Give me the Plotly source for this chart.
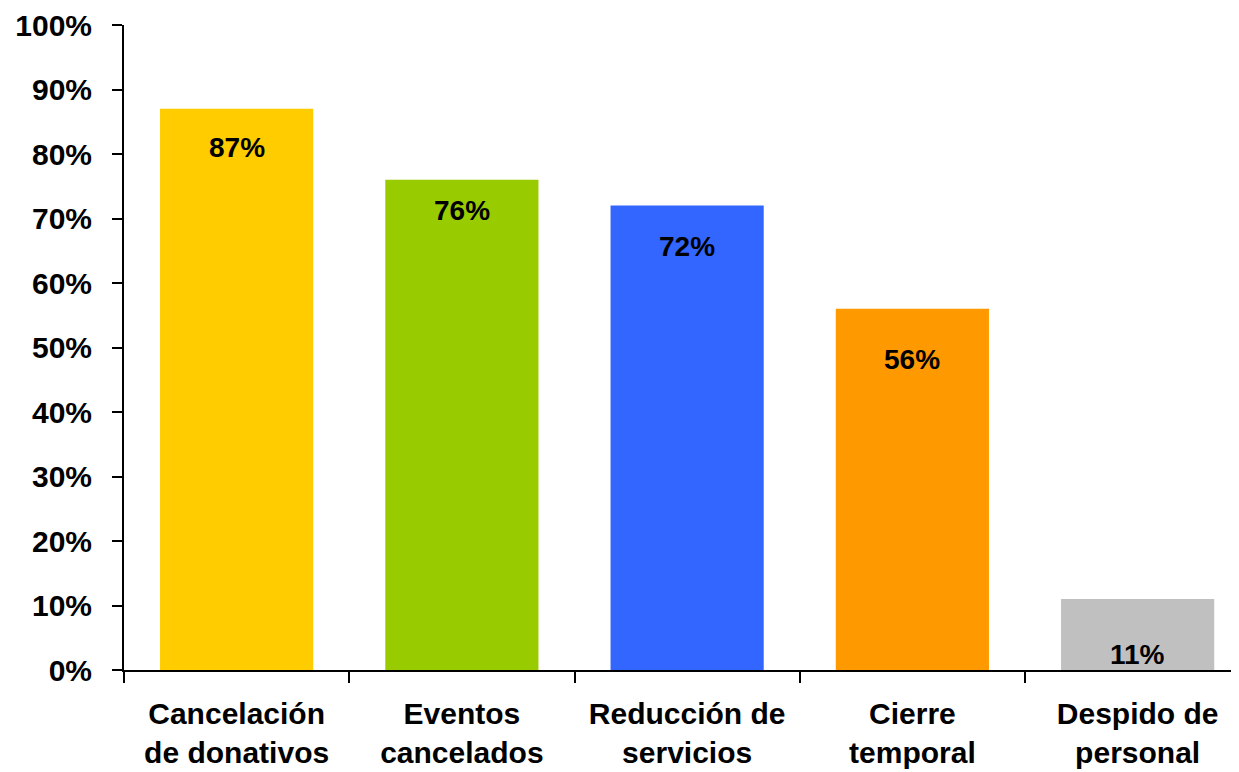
import plotly.graph_objects as go

categories = ["Cancelación<br>de donativos", "Eventos<br>cancelados", "Reducción de<br>servicios",
              "Cierre<br>temporal", "Despido de<br>personal"]
values = [87, 76, 72, 56, 11]
colors = ["#FFCC00", "#99CC00", "#3366FF", "#FF9900", "#C0C0C0"]
label_shift = [-39, -31, -41, -51, -55]
y_ticks = list(range(0, 101, 10))
y_tick_text = [f"{v}%" for v in y_ticks]

font_family = "Liberation Sans, Arial, sans-serif"

fig = go.Figure()
fig.add_trace(go.Bar(
    x=categories, y=values,
    marker=dict(color=colors, line=dict(width=0)),
    hoverinfo="skip",
))

for cat, v, s in zip(categories, values, label_shift):
    fig.add_annotation(x=cat, y=v, yshift=s, text=f"{v}%", showarrow=False,
                       yanchor="middle", xanchor="center",
                       font=dict(family=font_family, size=28, color="#000000", weight="bold"))

fig.update_layout(
    width=1239, height=772,
    margin=dict(l=116, r=8, t=17, b=110),
    paper_bgcolor="white", plot_bgcolor="white",
    bargap=0.32, showlegend=False,
    font=dict(family=font_family, color="#000000"),
)
fig.update_xaxes(
    range=[-0.5, 4.45], showgrid=False, zeroline=False, automargin=False,
    showline=True, linecolor="#000000", linewidth=2,
    ticks="outside", tickson="boundaries", ticklen=11, tickwidth=2, tickcolor="#000000",
    tickfont=dict(family=font_family, size=30, color="#000000", weight="bold"),
    ticklabelstandoff=16,
)
fig.update_yaxes(
    range=[0, 100], tickvals=y_ticks, ticktext=y_tick_text,
    showgrid=False, zeroline=False, automargin=False,
    showline=True, linecolor="#000000", linewidth=2,
    ticks="outside", ticklen=10, tickwidth=2, tickcolor="#000000",
    tickfont=dict(family=font_family, size=30, color="#000000", weight="bold"),
    ticklabelstandoff=14,
)

fig.write_html("out.html")
